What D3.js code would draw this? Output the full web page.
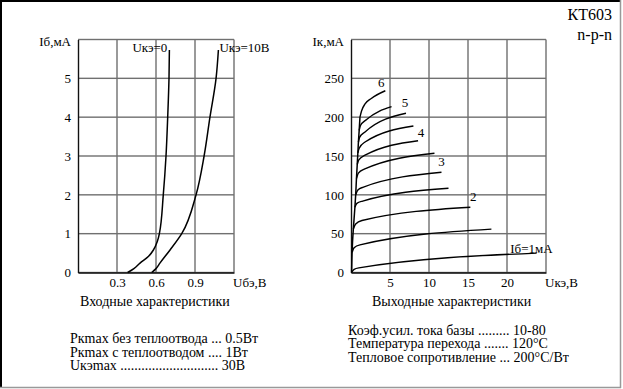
<!DOCTYPE html>
<html><head><meta charset="utf-8">
<script src="https://cdn.jsdelivr.net/npm/d3@7"></script>
<style>
body{margin:0;background:#fff}
svg{display:block}
svg text{font-family:"Liberation Serif","Times New Roman",serif !important;fill:#000}
</style></head>
<body>
<script>
// ---------- DATA ----------
const title = "КТ603";
const subtitle = "n-p-n";
// input characteristics: [Uбэ (V), Iб (mA)]
const inXTicks = [0.3, 0.6, 0.9];
const inYTicks = [0, 1, 2, 3, 4, 5];
const inNames = ["Uкэ=0", "Uкэ=10В"];
const inUce0 = [[0.382,0],[0.43,0.1],[0.477,0.24],[0.541,0.41],[0.58,0.58],[0.61,0.8],[0.626,1.0],[0.656,2],[0.677,3],[0.69,4],[0.70,5],[0.703,5.73]];
const inUce10 = [[0.567,0],[0.6,0.1],[0.63,0.24],[0.708,0.58],[0.798,1.0],[0.908,2],[0.97,3],[1.015,4],[1.062,5],[1.08,5.73]];
// output characteristics: [Uкэ (V), Iк (mA)], one per base current Iб (mA)
const outXTicks = [5, 10, 15, 20];
const outYTicks = [0, 50, 100, 150, 200, 250];
const outIb = [1, 1.5, 2, 2.5, 3, 3.5, 4, 4.5, 5, 5.5, 6];
const outCurves = [
  [[0.1,0.5],[0.4,4],[1.0,6],[23.8,24.9]],
  [[0.15,26],[0.4,32],[1.15,35.6],[18,55.8]],
  [[0.3,56],[0.6,62.5],[1.4,67],[15.3,84]],
  [[0.5,84],[0.75,89],[1.5,92],[12.5,108.5]],
  [[0.6,100],[0.85,106],[1.6,110],[11.6,129]],
  [[0.7,121],[0.95,128],[1.7,133],[10.7,153.5]],
  [[0.8,139],[1.0,145],[1.8,151],[8.6,169.7]],
  [[0.88,154],[1.05,160],[1.8,168],[8.0,188.6]],
  [[0.95,168],[1.1,174],[1.8,181],[7.05,205]],
  [[1.05,183],[1.2,189],[2.0,197],[5.2,213.5]],
  [[1.15,200],[1.35,208],[1.8,217],[2.6,224],[4.4,234]]
];
const outEnvelope = [[0.08,0],[0.12,20],[0.2,40],[0.3,56],[0.5,84],[0.6,100],[0.7,121],[0.8,139],[0.88,154],[0.95,168],[1.05,183],[1.15,200]];
const outLabels = ["Iб=1мА", "2", "3", "4", "5", "6"];
const outLabelIb = [1, 2, 3, 4, 5, 6];
const inCaption = "Входные характеристики";
const outCaption = "Выходные характеристики";
const specLeft = ["Pкmax без теплоотвода ... 0.5Вт", "Pкmax с теплоотводом .... 1Вт", "Uкэmax ............................ 30В"];
const specRight = ["Коэф.усил. тока базы ......... 10-80", "Температура перехода ....... 120°C", "Тепловое сопротивление ... 200°C/Вт"];

// ---------- DRAW ----------
const W = 623, H = 389;
const SERIF = "'Liberation Serif', 'Times New Roman', serif";
const svg = d3.select("body").append("svg").attr("width", W).attr("height", H)
  .style("font-family", SERIF);
svg.append("rect").attr("width", W).attr("height", H).attr("fill", "#fff");

// thin filled bar used for frame and grid lines
function bar(parent, x1, y1, x2, y2, color, width) {
  const hw = width / 2;
  const rx = Math.min(x1, x2) - (x1 === x2 ? hw : 0);
  const ry = Math.min(y1, y2) - (y1 === y2 ? hw : 0);
  const rw = x1 === x2 ? width : Math.abs(x2 - x1);
  const rh = y1 === y2 ? width : Math.abs(y2 - y1);
  return parent.append("rect").attr("x", rx).attr("y", ry).attr("width", rw).attr("height", rh).attr("fill", color);
}

// frame
bar(svg, 1, 0, 1, 388, "#000", 2);
bar(svg, 0, 1, 621, 1, "#000", 2);
bar(svg, 620.5, 0, 620.5, 388, "#999", 1.5);
bar(svg, 0, 387.5, 621, 387.5, "#999", 1.5);

const plotTop = 39.5, plotBottom = 272.5;
const FS = 13;
const GRID = "#707070", GRIDW = 1.4;

function panel(xDom, xRange, yDom, xTicks, yTicks, xFmt, yLabel, xLabel) {
  const x = d3.scaleLinear().domain(xDom).range(xRange);
  const y = d3.scaleLinear().domain(yDom).range([plotBottom, plotTop]);
  const g = svg.append("g");
  // grid lines + plot border, positioned by the scales
  const gridG = g.append("g");
  yTicks.concat([yDom[1]]).forEach(v => bar(gridG, x(xDom[0]), y(v), x(xDom[1]), y(v), GRID, GRIDW));
  xTicks.concat([xDom[1]]).forEach(v => bar(gridG, x(v), y(yDom[0]), x(v), y(yDom[1]), GRID, GRIDW));
  const ya = g.append("g").attr("transform", `translate(${xRange[0]},0)`)
    .call(d3.axisLeft(y).tickValues(yTicks).tickSize(0).tickSizeOuter(0).tickPadding(7).tickFormat(d3.format("d")));
  const xa = g.append("g").attr("transform", `translate(0,${plotBottom})`)
    .call(d3.axisBottom(x).tickValues(xTicks).tickSize(0).tickSizeOuter(0).tickPadding(5).tickFormat(xFmt));
  [ya, xa].forEach(a => {
    a.attr("font-family", null).attr("font-size", null);
    a.select(".domain").attr("stroke", "#111").attr("stroke-width", 1.4);
    a.selectAll(".tick line").remove();
    a.selectAll(".tick text").style("font-size", FS + "px").style("font-family", SERIF).style("fill", "#000");
  });
  g.append("text").attr("x", xRange[0] - 7).attr("y", 46).attr("text-anchor", "end").style("font-size", FS + "px").text(yLabel);
  g.append("text").attr("x", xRange[1] - 1).attr("y", 286.5).attr("text-anchor", "start").style("font-size", FS + "px").text(xLabel);
  return {x, y, g};
}

// Input characteristics
const A = panel([0, 1.2], [78, 234], [0, 6], inXTicks, inYTicks, d3.format(".1f"), "Iб,мА", "Uбэ,В");
const lineA = d3.line().x(d => A.x(d[0])).y(d => A.y(d[1])).curve(d3.curveMonotoneY);
[inUce0, inUce10].forEach(c => {
  A.g.append("path").attr("d", lineA(c)).attr("fill", "none").attr("stroke", "#000").attr("stroke-width", 1.5);
});
const e0 = inUce0[inUce0.length - 1], e1 = inUce10[inUce10.length - 1];
A.g.append("text").attr("x", A.x(e0[0]) - 2).attr("y", A.y(e0[1]) + 2).attr("text-anchor", "end").style("font-size", FS + "px").text(inNames[0]);
A.g.append("text").attr("x", A.x(e1[0]) + 1).attr("y", A.y(e1[1]) + 2).attr("text-anchor", "start").style("font-size", FS + "px").text(inNames[1]);

// Output characteristics
const B = panel([0, 25], [351, 546], [0, 300], outXTicks, outYTicks, d3.format("d"), "Iк,мА", "Uкэ,В");
const lineB = d3.line().x(d => B.x(d[0])).y(d => B.y(d[1])).curve(d3.curveMonotoneX);
const envLine = d3.line().x(d => B.x(d[0])).y(d => B.y(d[1])).curve(d3.curveMonotoneY);
B.g.append("path").attr("d", envLine(outEnvelope)).attr("fill", "none").attr("stroke", "#000").attr("stroke-width", 1.5);
outCurves.forEach(c => {
  B.g.append("path").attr("d", lineB(c)).attr("fill", "none").attr("stroke", "#000").attr("stroke-width", 1.4);
});
const labOff = {1: [16, 0], 2: [3, -6], 3: [0, -6], 4: [3, -4], 5: [-1, -6], 6: [-4, -4]};
outLabelIb.forEach((ib, i) => {
  const c = outCurves[outIb.indexOf(ib)];
  const e = c[c.length - 1];
  const o = labOff[ib];
  B.g.append("text")
    .attr("x", B.x(e[0]) + o[0]).attr("y", B.y(e[1]) + o[1])
    .attr("text-anchor", ib === 1 ? "end" : "middle")
    .style("font-size", FS + "px").text(outLabels[i]);
});

// Titles
svg.append("text").attr("x", 612).attr("y", 20).attr("text-anchor", "end").style("font-size", "16px").text(title);
svg.append("text").attr("x", 612).attr("y", 40).attr("text-anchor", "end").style("font-size", "16px").text(subtitle);

// captions
svg.append("text").attr("x", 80).attr("y", 306).style("font-size", "14px").text(inCaption);
svg.append("text").attr("x", 372).attr("y", 306).style("font-size", "14px").text(outCaption);

specLeft.forEach((s, i) => svg.append("text").attr("x", 70).attr("y", 343 + i * 13.5).style("font-size", "14px").text(s));
specRight.forEach((s, i) => svg.append("text").attr("x", 348).attr("y", 334.5 + i * 13.5).style("font-size", "14px").text(s));
</script>
</body></html>
